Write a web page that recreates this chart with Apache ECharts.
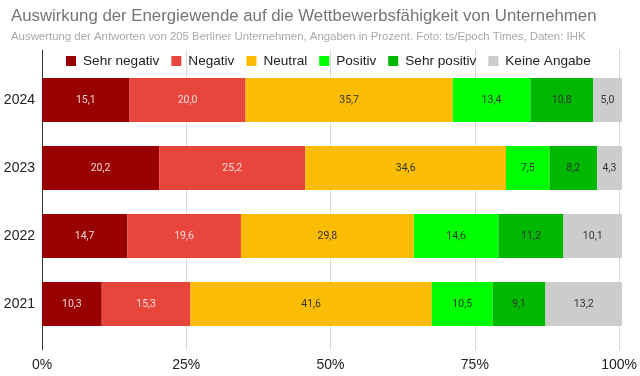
<!DOCTYPE html>
<html><head><meta charset="utf-8">
<script src="https://cdn.jsdelivr.net/npm/echarts@6/dist/echarts.min.js"></script>
<style>html,body{margin:0;padding:0;background:#fff}#c{width:640px;height:376px}</style>
</head><body><div id="c"></div>
<script>
const categories = ['2021', '2022', '2023', '2024'];
const seriesNames = ['Sehr negativ', 'Negativ', 'Neutral', 'Positiv', 'Sehr positiv', 'Keine Angabe'];
const sehrNegativ = [10.3, 14.7, 20.2, 15.1];
const negativ = [15.3, 19.6, 25.2, 20.0];
const neutral = [41.6, 29.8, 34.6, 35.7];
const positiv = [10.5, 14.6, 7.5, 13.4];
const sehrPositiv = [9.1, 11.2, 8.2, 10.8];
const keineAngabe = [13.2, 10.1, 4.3, 5.0];
const xTicks = [0, 25, 50, 75, 100];

const values = [sehrNegativ, negativ, neutral, positiv, sehrPositiv, keineAngabe];
const colors = ['#990000', '#e8453c', '#fbbc04', '#00ff00', '#00b800', '#cccccc'];
const labelColors = ['#f3d6d6', '#f8dcdc', '#333', '#333', '#333', '#333'];
const F = 'Liberation Sans, Arial, sans-serif';

const chart = echarts.init(document.getElementById('c'));
chart.setOption({
  animation: false,
  title: [
    {text: 'Auswirkung der Energiewende auf die Wettbewerbsfähigkeit von Unternehmen', left: 6, top: 3,
     textStyle: {fontFamily: F, fontSize: 16.8, fontWeight: 'normal', color: '#757575'}},
    {text: 'Auswertung der Antworten von 205 Berliner Unternehmen, Angaben in Prozent. Foto: ts/Epoch Times, Daten: IHK', left: 6, top: 26,
     textStyle: {fontFamily: F, fontSize: 11.4, fontWeight: 'normal', color: '#a8a8a8'}}
  ],
  legend: {
    data: seriesNames, left: 66, top: 54, itemWidth: 10, itemHeight: 10, itemGap: 12, padding: 0,
    icon: 'rect', textStyle: {fontFamily: F, fontSize: 13.6, color: '#222', padding: [0, 0, 0, 2]}
  },
  grid: [
    {left: 42, right: 18, top: 66, bottom: 38},
    {left: 42, right: 18, top: 50, bottom: 26}
  ],
  xAxis: [
    {gridIndex: 0, type: 'value', min: 0, max: 100, interval: 25,
     axisLabel: {show: false}, splitLine: {show: false}, axisLine: {show: false}, axisTick: {show: false}},
    {gridIndex: 1, type: 'value', min: 0, max: 100, interval: 25,
     axisLabel: {formatter: v => xTicks.includes(v) ? v + '%' : '', fontFamily: F, fontSize: 14, color: '#222', margin: 8},
     splitLine: {lineStyle: {color: '#d9d9d9'}},
     axisLine: {show: false}, axisTick: {show: false}}
  ],
  yAxis: [
    {gridIndex: 0, type: 'category', data: categories,
     axisLabel: {fontFamily: F, fontSize: 14, color: '#222', margin: 7},
     axisLine: {show: false}, axisTick: {show: false}},
    {gridIndex: 1, type: 'value', min: 0, max: 1,
     axisLabel: {show: false}, splitLine: {show: false}, axisTick: {show: false},
     axisLine: {show: true, onZero: false, lineStyle: {color: '#333'}}}
  ],
  series: seriesNames.map((n, i) => ({
    name: n, type: 'bar', stack: 'all', barWidth: '65%', xAxisIndex: 0, yAxisIndex: 0,
    itemStyle: {color: colors[i]},
    data: values[i],
    label: {show: true, position: 'inside', fontFamily: 'Roboto', fontSize: 10.5, color: labelColors[i],
      formatter: p => p.value.toFixed(1).replace('.', ',')}
  }))
});
</script></body></html>
